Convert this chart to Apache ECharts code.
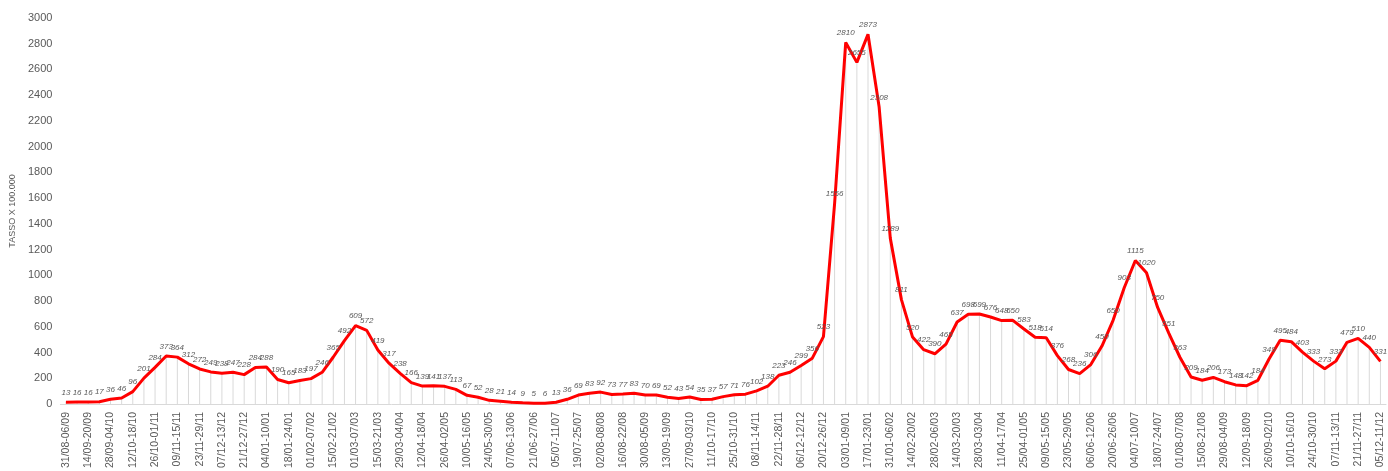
<!DOCTYPE html>
<html>
<head>
<meta charset="utf-8">
<script src="https://cdn.jsdelivr.net/npm/echarts@6/dist/echarts.min.js"></script>
<style>
  html, body { margin: 0; padding: 0; background: #fff; }
  #chart { width: 1388px; height: 471px; }
</style>
</head>
<body>
<div id="chart"></div>
<script>
// settimane (lun-dom) dal 31/08/2020 al 11/12/2022
const weeks = [
  '31/08-06/09','07/09-13/09','14/09-20/09','21/09-27/09','28/09-04/10','05/10-11/10','12/10-18/10','19/10-25/10',
  '26/10-01/11','02/11-08/11','09/11-15/11','16/11-22/11','23/11-29/11','30/11-06/12','07/12-13/12','14/12-20/12',
  '21/12-27/12','28/12-03/01',
  '04/01-10/01','11/01-17/01','18/01-24/01','25/01-31/01','01/02-07/02','08/02-14/02','15/02-21/02','22/02-28/02',
  '01/03-07/03','08/03-14/03','15/03-21/03','22/03-28/03','29/03-04/04','05/04-11/04','12/04-18/04','19/04-25/04',
  '26/04-02/05','03/05-09/05','10/05-16/05','17/05-23/05','24/05-30/05','31/05-06/06','07/06-13/06','14/06-20/06',
  '21/06-27/06','28/06-04/07','05/07-11/07','12/07-18/07','19/07-25/07','26/07-01/08','02/08-08/08','09/08-15/08',
  '16/08-22/08','23/08-29/08','30/08-05/09','06/09-12/09','13/09-19/09','20/09-26/09','27/09-03/10','04/10-10/10',
  '11/10-17/10','18/10-24/10','25/10-31/10','01/11-07/11','08/11-14/11','15/11-21/11','22/11-28/11','29/11-05/12',
  '06/12-12/12','13/12-19/12','20/12-26/12','27/12-02/01',
  '03/01-09/01','10/01-16/01','17/01-23/01','24/01-30/01','31/01-06/02','07/02-13/02','14/02-20/02','21/02-27/02',
  '28/02-06/03','07/03-13/03','14/03-20/03','21/03-27/03','28/03-03/04','04/04-10/04','11/04-17/04','18/04-24/04',
  '25/04-01/05','02/05-08/05','09/05-15/05','16/05-22/05','23/05-29/05','30/05-05/06','06/06-12/06','13/06-19/06',
  '20/06-26/06','27/06-03/07','04/07-10/07','11/07-17/07','18/07-24/07','25/07-31/07','01/08-07/08','08/08-14/08',
  '15/08-21/08','22/08-28/08','29/08-04/09','05/09-11/09','12/09-18/09','19/09-25/09','26/09-02/10','03/10-09/10',
  '10/10-16/10','17/10-23/10','24/10-30/10','31/10-06/11','07/11-13/11','14/11-20/11','21/11-27/11','28/11-04/12',
  '05/12-11/12'
];

const tasso = [
  13,16,16,17,36,46,96,201,284,373,
  364,312,272,249,238,247,228,284,288,190,
  165,183,197,246,365,492,609,572,419,317,
  238,166,139,141,137,113,67,52,28,21,
  14,9,5,6,13,36,69,83,92,73,
  77,83,70,69,52,43,54,35,37,57,
  71,76,102,138,223,246,299,356,523,1556,
  2810,2655,2873,2308,1289,811,520,422,390,465,
  637,698,699,676,648,650,583,518,514,376,
  268,236,306,450,650,903,1115,1020,750,551,
  363,209,184,206,173,148,142,184,349,495,
  484,403,333,273,333,479,510,440,331
];

const chart = echarts.init(document.getElementById('chart'));

chart.setOption({
  animation: false,
  grid: { left: 56, right: 2, top: 18, bottom: 66 },
  xAxis: {
    type: 'category',
    data: weeks,
    boundaryGap: true,
    axisLine: { lineStyle: { color: '#d9d9d9' } },
    axisTick: { show: false },
    axisLabel: {
      interval: 1, rotate: 90, color: '#595959', fontSize: 10.5,
      fontFamily: 'Liberation Sans, Arial'
    }
  },
  yAxis: {
    type: 'value',
    min: 0, max: 3000, interval: 200,
    name: 'TASSO X 100.000',
    nameLocation: 'middle',
    nameGap: 38,
    nameTextStyle: { color: '#595959', fontSize: 9, fontFamily: 'Liberation Sans, Arial' },
    axisLine: { show: false },
    axisTick: { show: false },
    splitLine: { show: false },
    axisLabel: {
      color: '#595959', fontSize: 11, fontFamily: 'Liberation Sans, Arial',
      formatter: v => String(v)
    }
  },
  series: [
    {
      // linee di proiezione verticali
      type: 'bar',
      data: tasso,
      barWidth: 1,
      silent: true,
      itemStyle: { color: '#d9d9d9' },
      z: 1
    },
    {
      type: 'line',
      data: tasso,
      symbol: 'circle',
      symbolSize: 1,
      showAllSymbol: true,
      itemStyle: { color: 'rgba(255,0,0,0)' },
      lineStyle: { color: '#ff0000', width: 3 },
      label: {
        show: true,
        position: 'top',
        distance: 5,
        fontSize: 8,
        fontStyle: 'italic',
        color: '#595959',
        fontFamily: 'Liberation Sans, Arial'
      },
      z: 3
    }
  ]
});
</script>
</body>
</html>
